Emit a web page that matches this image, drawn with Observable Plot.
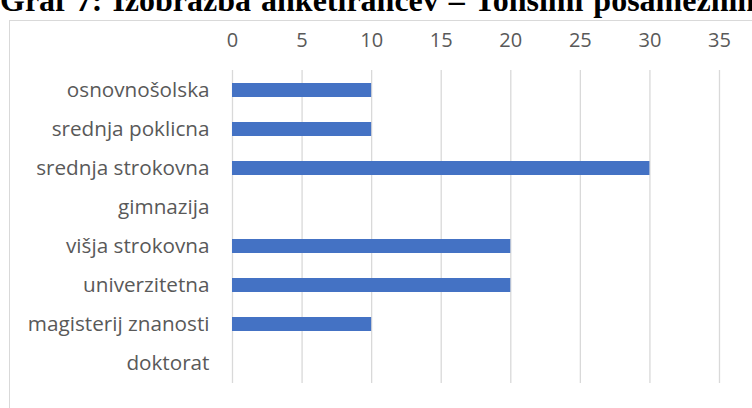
<!DOCTYPE html>
<html>
<head>
<meta charset="utf-8">
<script src="https://cdn.jsdelivr.net/npm/d3@7"></script>
<script src="https://cdn.jsdelivr.net/npm/@observablehq/plot@0.6"></script>
<style>
  html, body { margin: 0; padding: 0; background: #fff; }
  #wrap { position: relative; width: 752px; height: 408px; overflow: hidden; background: #fff; }
  #title { position: absolute; left: 0; top: -18px; white-space: nowrap;
           font-family: "Liberation Serif", "Times New Roman", serif; font-weight: bold;
           font-size: 32px; color: #000; line-height: 36px; word-spacing: 2px; }
  #frame { position: absolute; left: 9px; top: 20px; width: 800px; height: 500px;
           border: 1px solid #d9d9d9; box-sizing: border-box; }
  #chart { position: absolute; left: 0; top: 0; }
</style>
</head>
<body>
<div id="wrap">
  <div id="title">Graf 7: Izobrazba anketirancev – Tonsimi posameznim</div>
  <div id="frame"></div>
  <div id="chart"></div>
</div>
<script>
const categories = ["osnovnošolska", "srednja poklicna", "srednja strokovna", "gimnazija",
                    "višja strokovna", "univerzitetna", "magisterij znanosti", "doktorat"];
const values = [10, 10, 30, 0, 20, 20, 10, 0];
const xTicks = [0, 5, 10, 15, 20, 25, 30, 35];

const data = categories.map((c, i) => ({cat: c, value: values[i]}));

const chart = Plot.plot({
  width: 752,
  height: 408,
  marginLeft: 232,
  marginRight: 33,
  marginTop: 70,
  marginBottom: 25,
  style: {fontFamily: "'Open Sans', sans-serif", fontSize: "20px", color: "#595959", background: "transparent", overflow: "visible"},
  x: {domain: [0, 35], axis: null, label: null},
  y: {domain: categories, paddingInner: 0.64, paddingOuter: 0.32, axis: null, label: null},
  marks: [
    Plot.gridX(xTicks, {stroke: "#d9d9d9", strokeOpacity: 1, strokeWidth: 1.3}),
    Plot.barX(data, {x: "value", y: "cat", fill: "#4472C4"}),
    Plot.axisX(xTicks, {anchor: "top", label: null, tickSize: 0, tickPadding: 24, fontSize: 20, fill: "#595959"}),
    Plot.axisY(categories, {anchor: "left", label: null, tickSize: 0, tickPadding: 23, fontSize: 20.7, fill: "#595959"})
  ]
});
document.getElementById("chart").appendChild(chart);
</script>
</body>
</html>
